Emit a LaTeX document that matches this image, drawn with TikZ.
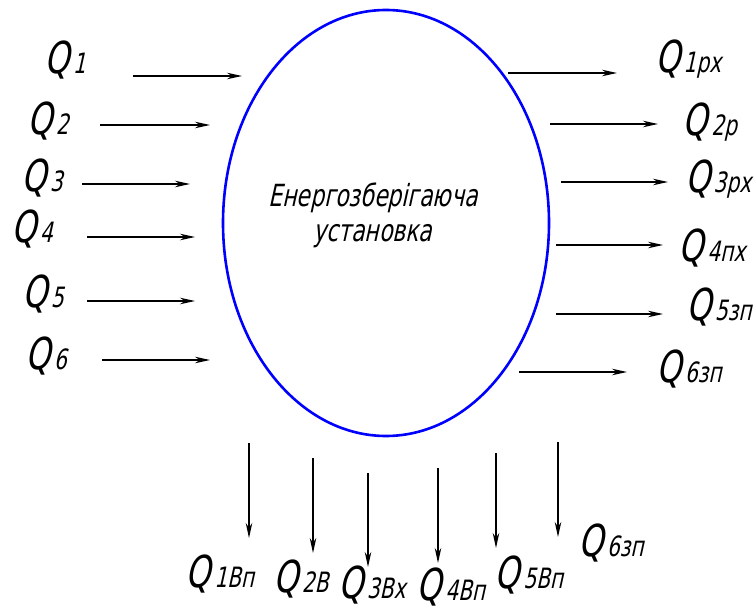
\documentclass[tikz,border=0pt]{standalone}
\usepackage{fontspec}
\usetikzlibrary{arrows.meta,shapes.geometric}
\newfontfamily\gostfont{DejaVu Sans}[FakeSlant=0.22,FakeStretch=0.72]
\newcommand{\Qflow}[1]{{\fontsize{44}{46}\selectfont Q}\kern3.5pt{\fontsize{28}{30}\selectfont #1}}

\begin{document}
\begin{tikzpicture}[x=1pt,y=-1pt,
    flow/.style={-{Stealth[length=15pt,width=6.5pt]},line width=1.2pt},
    qlabel/.style={inner sep=0pt,font=\gostfont}]
    \useasboundingbox (0,0) rectangle (755,612);

    % energy saving unit
    \node[ellipse,draw=blue,line width=2.6pt,minimum width=326,minimum height=426,inner sep=0pt] (unit) at (386,223) {};
    \node[qlabel,align=center,font=\gostfont\fontsize{30.5}{35}\selectfont] (unitname) at (373,215) {Енергозберігаюча\\установка};

    % inflows
    \coordinate (i1s) at (133,76);  \coordinate (i1e) at (242,76);
    \coordinate (i2s) at (100,125); \coordinate (i2e) at (210,125);
    \coordinate (i3s) at (82,184);  \coordinate (i3e) at (190,184);
    \coordinate (i4s) at (87,237);  \coordinate (i4e) at (195,237);
    \coordinate (i5s) at (87,301);  \coordinate (i5e) at (195,301);
    \coordinate (i6s) at (102,360); \coordinate (i6e) at (210,360);
    \draw[flow] (i1s) -- (i1e);
    \draw[flow] (i2s) -- (i2e);
    \draw[flow] (i3s) -- (i3e);
    \draw[flow] (i4s) -- (i4e);
    \draw[flow] (i5s) -- (i5e);
    \draw[flow] (i6s) -- (i6e);
    \node[qlabel] (q1) at (65,60)  {\Qflow{1}};
    \node[qlabel] (q2) at (48,121) {\Qflow{2}};
    \node[qlabel] (q3) at (42,178) {\Qflow{3}};
    \node[qlabel] (q4) at (32,229) {\Qflow{4}};
    \node[qlabel] (q5) at (43,294) {\Qflow{5}};
    \node[qlabel] (q6) at (46,356) {\Qflow{6}};

    % outflows to the right
    \coordinate (o1s) at (508,73);  \coordinate (o1e) at (617,73);
    \coordinate (o2s) at (550,124); \coordinate (o2e) at (658,124);
    \coordinate (o3s) at (561,182); \coordinate (o3e) at (668,182);
    \coordinate (o4s) at (556,245); \coordinate (o4e) at (663,245);
    \coordinate (o5s) at (556,314); \coordinate (o5e) at (663,314);
    \coordinate (o6s) at (519,372); \coordinate (o6e) at (627,372);
    \draw[flow] (o1s) -- (o1e);
    \draw[flow] (o2s) -- (o2e);
    \draw[flow] (o3s) -- (o3e);
    \draw[flow] (o4s) -- (o4e);
    \draw[flow] (o5s) -- (o5e);
    \draw[flow] (o6s) -- (o6e);
    \node[qlabel] (q1rx) at (688,59)  {\Qflow{1рх}};
    \node[qlabel] (q2r)  at (710,122) {\Qflow{2р}};
    \node[qlabel] (q3rx) at (718,179) {\Qflow{3рх}};
    \node[qlabel] (q4nx) at (712,248) {\Qflow{4пх}};
    \node[qlabel] (q5zp) at (719,307) {\Qflow{5зп}};
    \node[qlabel] (q6zp) at (689,369) {\Qflow{6зп}};

    % outflows downwards
    \coordinate (d1s) at (249,443); \coordinate (d1e) at (249,538);
    \coordinate (d2s) at (313,458); \coordinate (d2e) at (313,553);
    \coordinate (d3s) at (368,473); \coordinate (d3e) at (368,567);
    \coordinate (d4s) at (438,468); \coordinate (d4e) at (438,563);
    \coordinate (d5s) at (496,453); \coordinate (d5e) at (496,548);
    \coordinate (d6s) at (558,442); \coordinate (d6e) at (558,537);
    \draw[flow] (d1s) -- (d1e);
    \draw[flow] (d2s) -- (d2e);
    \draw[flow] (d3s) -- (d3e);
    \draw[flow] (d4s) -- (d4e);
    \draw[flow] (d5s) -- (d5e);
    \draw[flow] (d6s) -- (d6e);
    \node[qlabel] (q1vp) at (220,574) {\Qflow{1Вп}};
    \node[qlabel] (q2v)  at (301,579) {\Qflow{2В}};
    \node[qlabel] (q3vx) at (372,585) {\Qflow{3Вх}};
    \node[qlabel] (q4vp) at (451,587) {\Qflow{4Вп}};
    \node[qlabel] (q5vp) at (529,575) {\Qflow{5Вп}};
    \node[qlabel] (q6vz) at (611,543) {\Qflow{6зп}};
\end{tikzpicture}
\end{document}
